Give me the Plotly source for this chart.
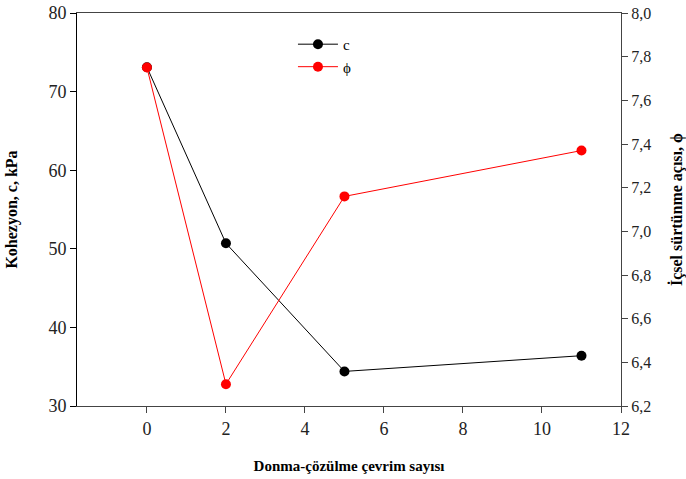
import plotly.graph_objects as go

# Freeze-thaw cycle counts and measured shear strength parameters
cycles = [0, 2, 5, 11]
cohesion = [73.1, 50.7, 34.4, 36.4]          # c, kPa
friction_angle = [7.75, 6.30, 7.16, 7.37]    # internal friction angle, degrees

FONT = "Liberation Serif"

fig = go.Figure()
fig.add_trace(go.Scatter(
    x=cycles, y=cohesion, name="c", mode="lines+markers",
    line=dict(color="black", width=1),
    marker=dict(color="black", size=10),
))
fig.add_trace(go.Scatter(
    x=cycles, y=friction_angle, name="ϕ", mode="lines+markers", yaxis="y2",
    line=dict(color="red", width=1),
    marker=dict(color="red", size=10),
))

fig.update_layout(
    width=686, height=479,
    margin=dict(l=77, r=65, t=13, b=73),
    plot_bgcolor="white", paper_bgcolor="white",
    separators=",.",
    font=dict(family=FONT, size=18, color="#222"),
    showlegend=True,
    legend=dict(
        x=0.397, y=0.962, xanchor="left", yanchor="top",
        bgcolor="rgba(0,0,0,0)", font=dict(size=15, color="black"),
        tracegroupgap=0, itemwidth=40,
    ),
    xaxis=dict(
        range=[-1.77, 12], tickvals=[0, 2, 4, 6, 8, 10, 12],
        showgrid=False, zeroline=False, automargin=False,
        showline=True, linecolor="#444", linewidth=1, mirror=True,
        ticks="outside", ticklen=6, tickcolor="#444",
        title=dict(text="<b>Donma-çözülme çevrim sayısı</b>",
                   font=dict(size=15, color="black"), standoff=22),
    ),
    yaxis=dict(
        range=[30, 80], tickvals=[30, 40, 50, 60, 70, 80],
        showgrid=False, zeroline=False, automargin=False,
        showline=True, linecolor="black", linewidth=1,
        ticks="outside", ticklen=6, tickcolor="black",
        title=dict(text="<b>Kohezyon, c, kPa</b>",
                   font=dict(size=16, color="black"), standoff=26),
    ),
    yaxis2=dict(
        range=[6.2, 8.0], tickvals=[6.2, 6.4, 6.6, 6.8, 7.0, 7.2, 7.4, 7.6, 7.8, 8.0],
        tickformat=".1f",
        overlaying="y", side="right",
        showgrid=False, zeroline=False, automargin=False,
        showline=True, linecolor="#444", linewidth=1,
        ticks="outside", ticklen=6, tickcolor="#444",
        tickfont=dict(size=16),
        title=dict(text="<b>İçsel sürtünme açısı, ϕ</b>",
                   font=dict(size=16, color="black"), standoff=26),
    ),
)

fig.write_html("out.html")
